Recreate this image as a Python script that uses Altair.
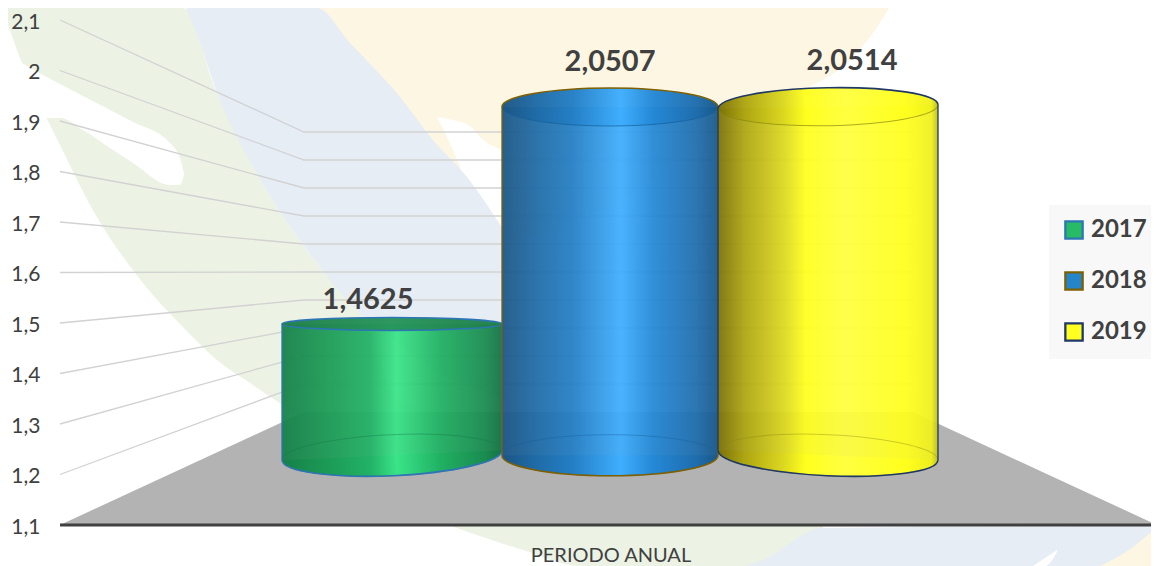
import math
import altair as alt
import pandas as pd

# --- chart data ---
years = ["2017", "2018", "2019"]
values = [1.4625, 2.0507, 2.0514]
value_labels = ["1,4625", "2,0507", "2,0514"]
ticks = [1.1, 1.2, 1.3, 1.4, 1.5, 1.6, 1.7, 1.8, 1.9, 2.0, 2.1]
tick_labels = ["1,1", "1,2", "1,3", "1,4", "1,5", "1,6", "1,7", "1,8", "1,9", "2", "2,1"]
x_title = "PERIODO ANUAL"

# --- pseudo-3D projection of the chart box (image pixels) ---
W, H = 1143, 558
FRONT_BASE, FRONT_UNIT = 525, 505
BACK_BASE, BACK_UNIT = 412, 280
CYL_BASE, CYL_UNIT = 457.7, 368.9
FRONT_X, BACK_X, RIGHT_X, END_X = 60, 304, 913, 1157


def v(py):
    """image row -> value on the front-wall axis"""
    return 1.1 + (FRONT_BASE - py) / FRONT_UNIT


def cyl_row(val):
    return CYL_BASE - CYL_UNIT * (val - 1.1)


xs = alt.Scale(domain=[8, 8 + W], range=[0, W], nice=False, zero=False)
ys = alt.Scale(domain=[v(8 + H), v(8)], range=[H, 0], nice=False, zero=False)
X = alt.X("x:Q", scale=xs, axis=None, title=None)
X2 = alt.X2("x2:Q")
Y = alt.Y("y:Q", scale=ys, axis=None, title=None)
Y2 = alt.Y2("y2:Q")


def band(points, color):
    df = pd.DataFrame(points, columns=["x", "top", "bot"])
    df["y"] = df["top"].map(v)
    df["y2"] = df["bot"].map(v)
    return alt.Chart(df).mark_area(color=color, opacity=1, orient="vertical",
                                   interpolate="monotone").encode(X, Y, Y2)


# --- watermark ---
GREEN_BG, BLUE_BG, CREAM_BG = "#ecf2e4", "#e6edf5", "#fdf6e3"
green_bg = [(8, 8, 25), (22, 8, 63), (50, 8, 125), (60, 8, 145), (90, 8, 205), (143, 8, 283),
            (183, 8, 327), (217, 93, 360), (253, 167, 385), (290, 227, 410), (320, 267, 430),
            (360, 312, 462), (400, 400, 505), (457, 420, 528), (523, 440, 550), (580, 450, 566),
            (823, 500, 566)]
hole_bg = [(22, 63, 63), (43, 75, 118), (60, 84, 118), (83, 96, 130), (110, 110, 148),
           (133, 122, 163), (170, 143, 185), (180, 158, 185), (184, 173, 175)]
cream_bg = [(317, 8, 8), (350, 8, 48), (400, 8, 105), (433, 8, 145), (467, 8, 190), (502, 8, 240),
            (620, 8, 200), (760, 8, 100), (813, 8, 85), (847, 8, 63), (873, 8, 33), (889, 8, 8)]
streak_bg = [(437, 117, 117), (453, 120, 150), (470, 126, 190), (480, 137, 205), (502, 150, 240)]
blue_a = [(186, 8, 8), (200, 8, 43), (217, 8, 93), (253, 8, 167), (290, 8, 227), (317, 8, 263),
          (350, 43, 304), (400, 97, 345), (433, 140, 370), (467, 177, 385), (505, 232, 400)]
blue_b = [(745, 566, 566), (763, 560, 566), (823, 528, 566), (1151, 526, 566)]
cream_b = [(1100, 566, 566), (1133, 547, 566), (1151, 532, 566)]
streak_b = [(1033, 566, 566), (1045, 558, 566), (1057, 550, 552)]

layers = [band(green_bg, GREEN_BG), band(hole_bg, "#ffffff"), band(cream_bg, CREAM_BG),
          band(streak_bg, "#ffffff"), band(blue_a, BLUE_BG), band(blue_b, BLUE_BG),
          band(cream_b, CREAM_BG), band(streak_b, "#ffffff")]

# --- tick labels and axis title ---
FRONT_ROW = [FRONT_BASE - FRONT_UNIT * (t - 1.1) for t in ticks]
tick_df = pd.DataFrame({"x": [40.5] * len(ticks), "y": [v(r + 2.5) for r in FRONT_ROW], "t": tick_labels})
layers.append(alt.Chart(tick_df).mark_text(font="Lato", fontSize=21, color="#404040", align="right",
                                           baseline="middle").encode(X, Y, text="t:N"))
title_df = pd.DataFrame({"x": [611], "y": [v(562)], "t": [x_title]})
layers.append(alt.Chart(title_df).mark_text(font="Lato", fontSize=20, color="#404040", align="center",
                                            baseline="alphabetic").encode(X, Y, text="t:N"))

# --- walls: each tick runs from the front edge to the back plane and across it ---
wall = []
for t in ticks[1:]:
    back = BACK_BASE - BACK_UNIT * (t - 1.1)
    front = FRONT_BASE - FRONT_UNIT * (t - 1.1)
    wall += [dict(t=t, o=0, x=FRONT_X, y=v(front)), dict(t=t, o=1, x=BACK_X, y=v(back)),
             dict(t=t, o=2, x=RIGHT_X, y=v(back))]
layers.append(alt.Chart(pd.DataFrame(wall)).mark_line(color="#d2d2d2", strokeWidth=1.3).encode(
    X, Y, detail="t:N", order="o:Q"))

# --- floor ---
floor = pd.DataFrame({"x": [FRONT_X, BACK_X, RIGHT_X, END_X],
                      "y": [v(525), v(412), v(412), v(525)], "y2": [v(525)] * 4})
layers.append(alt.Chart(floor).mark_area(color="#b3b3b3", orient="vertical", clip=True).encode(X, Y, Y2))
base = pd.DataFrame({"x": [FRONT_X], "x2": [1151], "y": [v(525)]})
layers.append(alt.Chart(base).mark_rule(color="#404040", strokeWidth=3).encode(X, X2, Y))


# --- cylinders ---
def grad(stops):
    return alt.LinearGradient(gradient="linear", x1=0, x2=1, y1=0, y2=0,
                              stops=[alt.GradientStop(color=c, offset=o) for o, c in stops])


cyl_x = [(282, 502), (502, 718), (718, 938)]
edge = ["#2e75b6", "#7f6000", "#1f3864"]
inner = ["#14784a", "#14609a", "#8a8a10"]
cap_ry = [6.5, 19, 19]
top_shift = [0, 0, -2]
bot_shift = [-5, 0, 5]
fills = [
    [(0, "#158049"), (.2, "#1c9a55"), (.4, "#22b266"), (.52, "#3ae488"), (.72, "#20b062"), (.92, "#1a8c50"), (1, "#147245")],
    [(0, "#1b5585"), (.15, "#1f6aa5"), (.33, "#247fc6"), (.55, "#3faefe"), (.7, "#2488d6"), (.9, "#1f6dad"), (1, "#18588a")],
    [(0, "#7a7008"), (.12, "#ada512"), (.3, "#dcd820"), (.4, "#ffff1e"), (.58, "#ffff40"), (.85, "#ffff1e"), (.97, "#f0f01e"), (1, "#bcbc1c")],
]
cap_fills = [
    [(0, "#1f7f4c"), (.5, "#27955a"), (1, "#1f7f4c")],
    fills[1],
    fills[2],
]


def half(r, lower=True):
    return f"M-1,0 A1,{r} 0 0,{0 if lower else 1} 1,0"


def lower_half_closed(r):
    return f"M-1,0 A1,{r} 0 0,0 1,0 Z"


def whole(r):
    return f"M-1,0 A1,{r} 0 0,0 1,0 A1,{r} 0 0,0 -1,0 Z"


def spot(cx, row):
    return pd.DataFrame({"x": [cx], "y": [v(row)]})


def tilt_angle(shift, w):
    return math.degrees(math.atan2(shift, w)) % 360


for i in range(3):
    x0, x1 = cyl_x[i]
    w = x1 - x0
    cx = (x0 + x1) / 2
    size = w * w
    top = cyl_row(values[i])
    bot = CYL_BASE - 2.5
    rt = cap_ry[i] / (w / 2)
    rb = 20.5 / (w / 2)
    ta = tilt_angle(top_shift[i] * 2, w)
    ba = tilt_angle(bot_shift[i] * 2, w)
    g = grad(fills[i])
    tl, tr = top - top_shift[i], top + top_shift[i]
    bl, br = bot - bot_shift[i], bot + bot_shift[i]
    layers.append(alt.Chart(spot(cx, bot)).mark_point(
        shape=lower_half_closed(rb), size=size, filled=True, fill=g, opacity=1, angle=ba).encode(X, Y))
    # the body runs a pixel into the lower half of the base so that no seam shows
    body = pd.DataFrame({"x": [x0, x1], "y": [v(tl), v(tr)], "y2": [v(bl + 1), v(br + 1)]})
    layers.append(alt.Chart(body).mark_area(fill=g, opacity=0.94, orient="vertical").encode(X, Y, Y2))
    layers.append(alt.Chart(spot(cx, bot)).mark_point(
        shape=whole(rb), size=size, filled=False, stroke=inner[i], strokeWidth=1, opacity=0.4,
        angle=ba).encode(X, Y))
    layers.append(alt.Chart(spot(cx, bot)).mark_point(
        shape=half(rb), size=size, filled=False, stroke=edge[i], strokeWidth=1.6, opacity=1,
        angle=ba).encode(X, Y))
    layers.append(alt.Chart(spot(cx, top)).mark_point(
        shape=whole(rt), size=size, filled=True, fill=grad(cap_fills[i]), opacity=0.97,
        angle=ta).encode(X, Y))
    layers.append(alt.Chart(spot(cx, top)).mark_point(
        shape=half(rt), size=size, filled=False, stroke=edge[i] if i == 0 else inner[i],
        strokeWidth=1.5 if i == 0 else 1, opacity=1 if i == 0 else 0.7, angle=ta).encode(X, Y))
    layers.append(alt.Chart(spot(cx, top)).mark_point(
        shape=half(rt, lower=False), size=size, filled=False, stroke=edge[i], strokeWidth=1.6, opacity=1,
        angle=ta).encode(X, Y))
    sides = pd.DataFrame({"x": [x0, x1], "y": [v(tl), v(tr)], "y2": [v(bl), v(br)]})
    layers.append(alt.Chart(sides).mark_rule(color=edge[i], strokeWidth=1.3).encode(X, Y, Y2))

# --- value labels ---
label_x = [368, 610, 852]
label_row = [309, 71, 70]
labels = pd.DataFrame({"x": label_x, "y": [v(r) for r in label_row], "t": value_labels})
layers.append(alt.Chart(labels).mark_text(font="Lato", fontSize=29, fontWeight="bold", color="#404040",
                                          baseline="alphabetic", align="center").encode(X, Y, text="t:N"))

# --- legend ---
legend_fill = ["#27bb66", "#2585ca", "#ffff20"]
legend_edge = ["#2e75b6", "#7f6000", "#1f3864"]
leg = alt.Legend(title=None, orient="none", legendX=1041, legendY=197, fillColor="#f8f8f8",
                 symbolType="square", symbolSize=300, symbolStrokeWidth=2.3, padding=13,
                 rowPadding=23, labelFont="Lato", labelFontSize=24, labelFontWeight="bold",
                 labelColor="#404040", labelOffset=5, symbolOpacity=1, labelOpacity=1)
legend_df = pd.DataFrame({"x": [8.0] * 3, "y": [1.5] * 3, "year": years})
layers.append(alt.Chart(legend_df).mark_point(filled=True, size=0).encode(
    X, Y,
    fill=alt.Fill("year:N", scale=alt.Scale(domain=years, range=legend_fill), legend=leg),
    stroke=alt.Stroke("year:N", scale=alt.Scale(domain=years, range=legend_edge), legend=leg)))

chart = alt.layer(*layers).properties(
    width=W, height=H, padding=0, autosize=alt.AutoSizeParams(type="none"), background="#ffffff"
).configure_view(stroke=None)

chart.save("out.html", embed_options={"renderer": "svg", "actions": False})
